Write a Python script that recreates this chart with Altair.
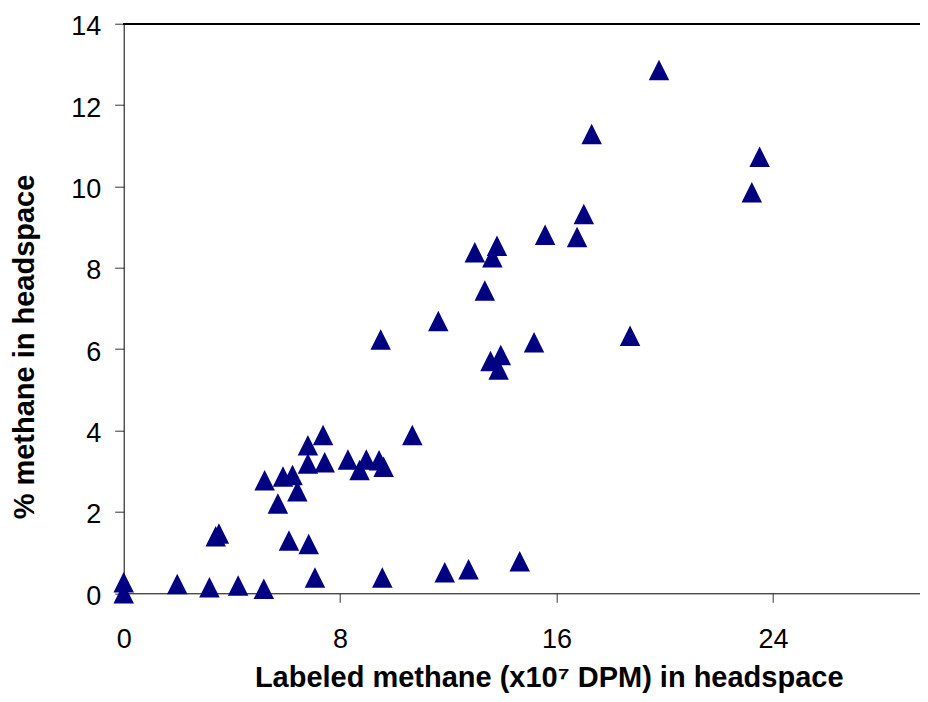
import altair as alt
import pandas as pd

# Labeled methane (x10^7 DPM) in headspace
x_vals = [0.00, 0.00, 1.98, 3.17, 4.23, 5.18, 3.40, 3.52, 6.11, 6.84,
          7.07, 9.56, 11.87, 12.75, 14.64, 5.70, 5.21, 5.89, 6.24, 6.42,
          6.81, 6.81, 7.37, 7.43, 8.29, 8.72, 8.97, 9.44, 9.61, 10.67,
          9.50, 11.63, 12.98, 13.80, 13.63, 13.35, 15.58, 16.76, 17.01, 17.30,
          19.79, 23.51, 23.22, 18.72, 15.17, 13.56, 13.94, 13.86]
# % methane in headspace
y_vals = [0.27, 0.00, 0.23, 0.15, 0.19, 0.11, 1.40, 1.47, 1.30, 1.21,
          0.39, 0.39, 0.52, 0.59, 0.79, 2.21, 2.78, 2.87, 2.91, 2.51,
          3.64, 3.19, 3.89, 3.22, 3.29, 3.03, 3.29, 3.27, 3.11, 3.89,
          6.24, 6.69, 8.38, 8.54, 8.26, 7.44, 8.81, 8.76, 9.32, 11.29,
          12.86, 10.73, 9.86, 6.33, 6.17, 5.71, 5.86, 5.50]

x_ticks = [0, 8, 16, 24]
y_ticks = [0, 2, 4, 6, 8, 10, 12, 14]

df = pd.DataFrame({"x": x_vals, "y": y_vals})

PX_PER_UNIT = 27.05
W = 796
H = 569.6
FONT = "Liberation Sans"

points = alt.Chart(df).mark_point(
    shape="M0,-1L1,1L-1,1Z", size=420, filled=True, color="#000080", opacity=1
).encode(
    x=alt.X("x:Q",
            scale=alt.Scale(domain=[0, W / PX_PER_UNIT], nice=False, zero=False),
            axis=alt.Axis(values=x_ticks, grid=False, tickSize=9, labelPadding=24,
                          labelFlush=False,
                          labelFontSize=27, labelFont=FONT, labelColor="black",
                          domainColor="black", tickColor="#333",
                          title="Labeled methane (x10\u2077 DPM) in headspace",
                          titleFont=FONT, titleFontSize=29, titleFontWeight="bold",
                          titleColor="black", titleX=425, titleY=93.5,
                          titleAlign="center", titleBaseline="alphabetic")),
    y=alt.Y("y:Q",
            scale=alt.Scale(domain=[0, 14], nice=False),
            axis=alt.Axis(values=y_ticks, grid=False, tickSize=9, labelPadding=14,
                          labelFlush=False,
                          labelFontSize=27, labelFont=FONT, labelColor="black",
                          labelOffset=3,
                          domainColor="black", tickColor="#333",
                          title="% methane in headspace",
                          titleFont=FONT, titleFontSize=29, titleFontWeight="bold",
                          titleColor="black", titleAngle=270, titleX=-90.4, titleY=322.8,
                          titleAlign="center", titleBaseline="alphabetic")),
)

top_border = alt.Chart(df).mark_rule(color="black", strokeWidth=1).encode(
    x=alt.value(0), x2=alt.value(W), y=alt.value(0)
)

chart = alt.layer(points, top_border).properties(
    width=W, height=H,
    background="white",
    autosize=alt.AutoSizeParams(type="none"),
    padding={"left": 115.7, "top": 15.7, "right": 0, "bottom": 99.7},
).configure_view(strokeWidth=0, stroke="transparent")

chart.save("out.html", embed_options={"renderer": "svg", "actions": False})
